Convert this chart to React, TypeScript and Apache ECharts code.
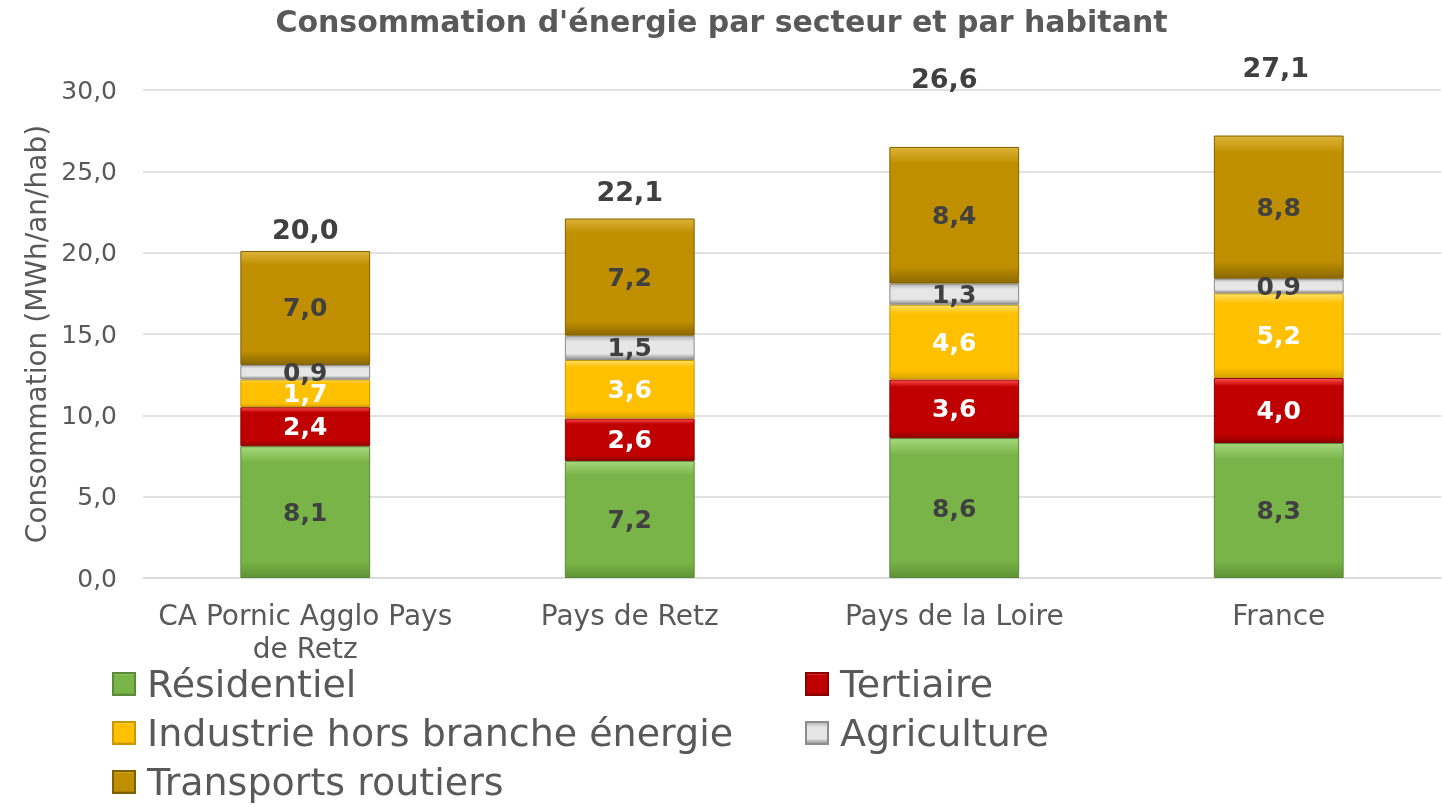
import React, { useEffect, useRef } from "react";
import * as echarts from "echarts";

const categories = ["CA Pornic Agglo Pays\nde Retz", "Pays de Retz", "Pays de la Loire", "France"];
const residentiel = [8.1, 7.2, 8.6, 8.3];
const tertiaire = [2.4, 2.6, 3.6, 4.0];
const industrie = [1.7, 3.6, 4.6, 5.2];
const agriculture = [0.9, 1.5, 1.3, 0.9];
const transports = [7.0, 7.2, 8.4, 8.8];
const totalLabels = ["20,0", "22,1", "26,6", "27,1"];
const yTicks = [0, 5, 10, 15, 20, 25, 30];

const FONT = "'DejaVu Sans', sans-serif";
const GRAY = "#595959";

function bevel(light: string, base: string, dark: string, a = 0.12) {
  return new echarts.graphic.LinearGradient(0, 0, 0, 1, [
    { offset: 0, color: light },
    { offset: a, color: base },
    { offset: 1 - a, color: base },
    { offset: 1, color: dark },
  ]);
}

export default function App() {
  const ref = useRef<HTMLDivElement>(null);
  useEffect(() => {
    if (!ref.current) return;
    const chart = echarts.init(ref.current, undefined, { renderer: "svg" });
    const fmt = (p: any) => Number(p.value).toFixed(1).replace(".", ",");
    const seg = (
      name: string,
      data: number[],
      fill: any,
      legendColor: string,
      border: string,
      labelColor: string
    ) => ({
      name,
      type: "bar",
      stack: "total",
      barWidth: "40%",
      data,
      color: legendColor,
      itemStyle: { color: fill, borderColor: border, borderWidth: 1 },
      label: {
        show: true,
        position: "inside",
        formatter: fmt,
        color: labelColor,
        fontFamily: FONT,
        fontWeight: "bold",
        fontSize: 25,
      },
    });
    const totals = residentiel.map(
      (_, i) => residentiel[i] + tertiaire[i] + industrie[i] + agriculture[i] + transports[i]
    );
    const totalOffsets = [3, 8, 49, 49];
    const totalShiftX = [0, 0, -10, -3];
    const legendCommon = {
      orient: "vertical",
      top: 665,
      height: 150,
      padding: 0,
      itemWidth: 22,
      itemHeight: 22,
      itemGap: 11,
      icon: "rect",
      textStyle: { fontFamily: FONT, fontSize: 38, color: GRAY, padding: [0, 0, 0, 7] },
    };
    chart.setOption({
      animation: false,
      title: {
        text: "Consommation d'énergie par secteur et par habitant",
        left: "center",
        top: 6,
        padding: 0,
        textStyle: { fontFamily: FONT, fontWeight: "bold", fontSize: 30, color: GRAY },
      },
      grid: { left: 143, right: 2, top: 90, bottom: 229, containLabel: false },
      legend: [
        {
          ...legendCommon,
          left: 112,
          data: ["Résidentiel", "Industrie hors branche énergie", "Transports routiers"],
        },
        {
          ...legendCommon,
          left: 805,
          data: ["Tertiaire", "Agriculture"],
        },
      ],
      xAxis: {
        type: "category",
        data: categories,
        axisLine: { lineStyle: { color: "#d9d9d9", width: 1.5 } },
        axisTick: { show: false },
        axisLabel: {
          interval: 0,
          fontFamily: FONT,
          fontSize: 28,
          color: GRAY,
          margin: 21,
          lineHeight: 33,
        },
      },
      yAxis: {
        type: "value",
        min: yTicks[0],
        max: yTicks[yTicks.length - 1],
        interval: 5,
        name: "Consommation (MWh/an/hab)",
        nameLocation: "middle",
        nameGap: 92,
        nameTextStyle: { fontFamily: FONT, fontSize: 28, color: GRAY },
        axisLine: { show: false },
        axisTick: { show: false },
        axisLabel: {
          fontFamily: FONT,
          fontSize: 25,
          color: GRAY,
          margin: 26,
          formatter: (v: number) => v.toFixed(1).replace(".", ","),
        },
        splitLine: { lineStyle: { color: "#d9d9d9", width: 1.5 } },
      },
      series: [
        seg("Résidentiel", residentiel, bevel("#a6d77e", "#78b447", "#5e9236"), "#78b447", "#5a8a35", "#404040"),
        seg("Tertiaire", tertiaire, bevel("#ff4d4d", "#c00000", "#8f0000"), "#c00000", "#8a0000", "#ffffff"),
        seg("Industrie hors branche énergie", industrie, bevel("#ffe066", "#ffc000", "#d9a300"), "#ffc000", "#c99700", "#ffffff"),
        seg("Agriculture", agriculture, bevel("#b3b3b3", "#e6e6e6", "#8c8c8c", 0.25), "#c0c0c0", "#8c8c8c", "#404040"),
        seg("Transports routiers", transports, bevel("#ddb43a", "#bf8f00", "#8c6900"), "#bf8f00", "#7f6000", "#404040"),
        {
          name: "Total",
          type: "line",
          data: totals.map((v, i) => ({
            value: v,
            label: { offset: [totalShiftX[i], -totalOffsets[i]] },
          })),
          symbol: "circle",
          symbolSize: 1,
          showSymbol: true,
          itemStyle: { color: "rgba(0,0,0,0)" },
          lineStyle: { opacity: 0 },
          silent: true,
          label: {
            show: true,
            position: "top",
            formatter: (p: any) => totalLabels[p.dataIndex],
            fontFamily: FONT,
            fontWeight: "bold",
            fontSize: 27,
            color: "#404040",
          },
        },
      ],
    });
    return () => chart.dispose();
  }, []);
  return (
    <div
      ref={ref}
      style={{ position: "fixed", left: 0, top: 0, width: 1443, height: 807 }}
    />
  );
}
